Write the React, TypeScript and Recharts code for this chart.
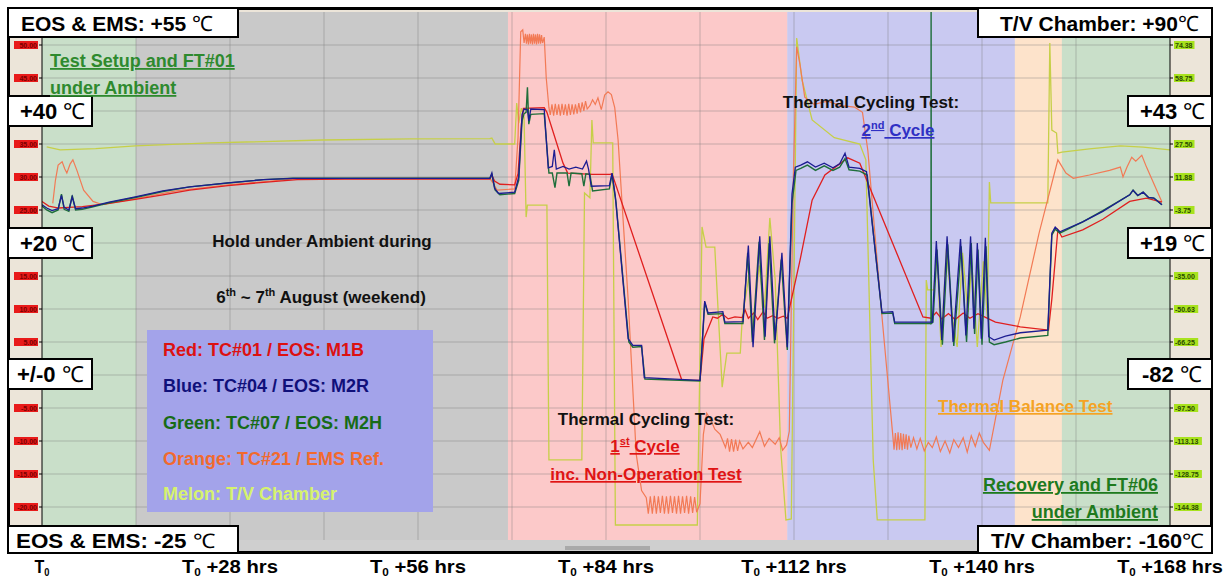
import React from 'react'
import { LineChart, Line, XAxis, YAxis, ReferenceArea, ReferenceLine } from 'recharts'

// time axis (hours after T0) and the two temperature scales
const HOUR_TICKS = [0, 14, 28, 42, 56, 70, 84, 98, 112, 126, 140, 154, 168]
const LEFT_TICKS = [-25, -20, -15, -10, -5, 0, 5, 10, 15, 20, 25, 30, 35, 40, 45, 50, 55]
const RIGHT_TICKS = [
  -160, -144.375, -128.75, -113.125, -97.5, -81.875, -66.25, -50.625, -35, -19.375, -3.75, 11.875, 27.5,
  43.125, 58.75, 74.375, 90,
]

// test phases: ambient setup, weekend hold, 1st cycle, 2nd cycle, thermal balance, recovery
const PHASE_EDGES = [0, 14, 69.4, 111, 144.9, 151.9, 168]

// [hours, degC]
const RED_TC01: [number, number][] = [
  [0, 26.3], [1.0, 25.6], [2.5, 25.3], [4.0, 25.4], [6.0, 25.5], [7.6, 25.7], [10.0, 26.0], [13.9, 26.6],
  [18.0, 27.3], [22.0, 28.0], [27.7, 28.7], [33.0, 29.2], [38.0, 29.6], [45.0, 29.7], [55.0, 29.7], [66.7, 29.7],
  [67.0, 30.3], [67.4, 29.4], [68.2, 28.9], [70.4, 28.8], [70.9, 30.5], [71.4, 38.0], [71.7, 40.4], [74.8, 40.5],
  [75.2, 39.8], [77.6, 32.1], [78.3, 30.6], [82.0, 30.4], [84.6, 30.4], [84.9, 30.5], [95.3, -0.8], [98.0, -0.8],
  [98.6, 5.5], [99.9, 8.8], [100.6, 8.6], [101.4, 9.2], [102.2, 8.5], [103.2, 8.8], [104.3, 8.7], [104.7, 9.9],
  [105.2, 8.6], [106.0, 9.4], [106.6, 8.4], [107.4, 9.6], [108.0, 8.6], [108.8, 9.0], [109.6, 8.6], [110.4, 8.9],
  [111.0, 8.6], [112.9, 17.4], [114.7, 26.5], [116.6, 30.3], [120.0, 32.9], [121.8, 32.1], [131.2, 8.8],
  [132.4, 8.6], [133.2, 9.5], [134.0, 8.5], [135.0, 9.3], [136.0, 8.4], [137.2, 9.4], [138.2, 8.6], [139.4, 9.3],
  [140.6, 8.7], [142.0, 8.0], [145.7, 7.3], [149.9, 6.8], [150.4, 11.5], [151.3, 22.0], [151.9, 20.9],
  [155.0, 22.0], [158.0, 23.6], [162.0, 26.3], [164.5, 26.8], [166.8, 26.2],
]

const BLUE_TC04: [number, number][] = [
  [0, 25.8], [0.7, 25.3], [1.5, 24.9], [2.4, 25.2], [2.9, 27.2], [3.3, 25.4], [4.0, 25.0], [4.5, 27.0],
  [5.0, 25.2], [6.0, 25.3], [7.6, 25.6], [10.0, 26.2], [13.9, 27.0], [18.0, 27.9], [22.0, 28.5], [27.7, 29.1],
  [33.0, 29.6], [37.4, 29.8], [66.7, 29.8], [67.0, 30.6], [67.4, 28.3], [68.0, 27.5], [70.4, 27.7], [71.0, 30.0],
  [71.5, 39.5], [71.8, 40.3], [72.3, 40.2], [72.5, 38.5], [72.8, 40.3], [74.8, 40.2], [75.4, 31.4], [76.0, 31.6],
  [76.3, 34.1], [76.6, 31.2], [77.6, 31.6], [78.5, 31.2], [79.5, 31.5], [80.5, 31.2], [81.1, 32.4], [81.4, 31.2],
  [81.8, 28.6], [84.5, 28.7], [84.9, 30.6], [85.4, 27.0], [87.3, 5.5], [88.0, 4.5], [89.3, 4.5], [89.7, -0.4],
  [98.0, -0.8], [98.7, 11.2], [99.2, 9.4], [101.4, 9.6], [101.7, 8.0], [104.4, 8.1], [105.2, 19.6], [105.9, 4.2],
  [106.9, 21.0], [107.7, 5.8], [108.4, 21.0], [109.2, 5.3], [110.2, 18.5], [111.0, 4.2], [111.7, 27.4],
  [112.2, 31.5], [113.0, 31.8], [114.0, 32.3], [115.2, 31.5], [116.5, 32.1], [117.8, 31.4], [118.8, 32.0],
  [119.6, 33.6], [120.2, 31.5], [121.8, 31.3], [122.8, 30.8], [125.1, 9.5], [126.7, 9.6], [127.0, 8.0],
  [132.6, 8.0], [133.2, 20.3], [134.0, 5.3], [134.8, 21.0], [135.7, 5.0], [136.8, 20.6], [137.6, 6.0],
  [138.3, 21.0], [138.8, 7.0], [139.3, 20.0], [139.9, 5.5], [140.5, 20.8], [141.0, 5.8], [141.8, 5.3],
  [143.5, 5.9], [145.7, 6.4], [149.8, 6.8], [150.4, 21.5], [150.9, 22.4], [151.6, 21.7], [155.0, 23.2],
  [158.0, 24.8], [162.0, 27.3], [162.5, 28.0], [163.2, 27.2], [164.0, 27.7], [164.8, 26.9], [165.6, 26.8],
  [166.8, 25.8],
]

const GREEN_TC07: [number, number][] = [
  [0, 25.6], [0.7, 25.0], [1.5, 24.6], [2.4, 25.0], [2.9, 27.4], [3.3, 25.1], [4.0, 24.8], [4.5, 27.2],
  [5.0, 25.0], [6.0, 25.1], [7.6, 25.5], [10.0, 26.1], [13.9, 26.9], [18.0, 27.8], [22.0, 28.5], [27.7, 29.1],
  [33.0, 29.6], [37.4, 29.8], [66.7, 29.8], [67.0, 30.4], [67.5, 28.0], [68.2, 27.3], [70.4, 27.5], [71.0, 29.5],
  [71.5, 38.5], [71.8, 39.6], [72.1, 39.8], [72.3, 43.6], [72.5, 38.0], [72.8, 39.5], [74.8, 39.6], [75.5, 30.6],
  [76.0, 30.6], [76.4, 28.4], [76.7, 30.6], [78.2, 30.6], [78.5, 28.6], [78.8, 30.6], [80.4, 30.5], [80.7, 28.6],
  [81.0, 30.5], [81.6, 30.4], [82.0, 27.9], [84.5, 28.2], [84.9, 30.4], [85.5, 26.0], [87.4, 5.0], [88.0, 4.2],
  [89.3, 4.3], [89.8, -0.6], [98.0, -0.9], [98.7, 11.0], [99.2, 9.2], [101.4, 9.3], [101.7, 7.8], [104.4, 7.8],
  [105.1, 18.5], [105.8, 5.0], [106.8, 20.2], [107.6, 5.3], [108.3, 20.0], [109.1, 4.8], [110.1, 17.5],
  [111.0, 3.8], [111.7, 26.0], [112.3, 31.0], [113.0, 31.3], [114.0, 31.8], [115.2, 31.0], [116.5, 31.7],
  [117.8, 31.0], [118.8, 31.5], [119.6, 32.8], [120.2, 31.1], [121.8, 30.9], [122.9, 30.3], [125.1, 9.3],
  [126.7, 9.4], [127.0, 7.8], [132.4, 7.8], [132.42, 55], [132.45, 7.8], [132.7, 8.0], [133.3, 19.0],
  [134.1, 4.6], [134.9, 19.8], [135.8, 4.4], [136.9, 19.5], [137.7, 5.0], [138.4, 20.0], [138.9, 6.2],
  [139.4, 19.0], [140.0, 4.6], [140.6, 19.5], [141.1, 5.0], [141.8, 4.6], [143.5, 5.0], [145.7, 5.6],
  [149.8, 6.0], [150.4, 21.2], [150.9, 22.1], [151.6, 21.5], [155.0, 23.2], [158.0, 24.9], [162.0, 27.3],
  [162.5, 28.0], [163.2, 27.2], [164.0, 27.7], [164.8, 26.9], [165.6, 26.8], [166.8, 25.8],
]

const ORANGE_TC21: [number, number][] = [
  [1.6, 26.0], [2.0, 29.5], [2.4, 31.8], [3.0, 32.3], [3.4, 31.2], [3.7, 30.6], [4.2, 32.0], [4.6, 32.6],
  [5.2, 31.0], [6.2, 28.0], [7.6, 26.3], [9.0, 25.8], [13.9, 26.7], [20.0, 27.9], [27.7, 28.8], [37.4, 29.7],
  [50.0, 29.8], [66.7, 29.8], [67.1, 29.2], [67.8, 28.0], [70.4, 28.2], [70.9, 36.0], [71.3, 52.0], [71.6, 52.3],
  [71.8, 50.3], [72.0, 51.7], [72.15, 50.2], [72.3, 51.6], [72.45, 50.1], [72.6, 51.7], [72.75, 50.2],
  [72.9, 51.6], [73.05, 50.1], [73.2, 51.7], [73.35, 50.2], [73.5, 51.6], [73.65, 50.1], [73.8, 51.7],
  [73.95, 50.2], [74.1, 51.6], [74.25, 50.2], [74.4, 51.5], [74.55, 50.3], [74.8, 51.2], [75.1, 45.0],
  [75.5, 40.5], [75.7, 39.4], [75.95, 41.0], [76.2, 39.3], [76.45, 41.1], [76.7, 39.4], [76.95, 41.0],
  [77.2, 39.3], [77.45, 41.1], [77.7, 39.4], [77.95, 41.0], [78.2, 39.3], [78.45, 41.1], [78.7, 39.4],
  [78.95, 41.0], [79.2, 39.5], [79.45, 41.0], [79.7, 39.6], [79.95, 41.2], [80.2, 39.8], [80.45, 41.3],
  [80.7, 40.0], [80.95, 41.5], [81.2, 40.3], [81.6, 40.8], [82.0, 41.7], [82.4, 41.0], [82.8, 42.0],
  [83.3, 40.2], [83.8, 42.4], [84.3, 42.9], [84.8, 42.5], [85.3, 40.5], [85.8, 35.6], [87.3, 11.4],
  [88.5, -12.0], [89.3, -17.5], [90.0, -18.6], [90.3, -21.0], [90.6, -18.4], [90.9, -21.0], [91.2, -18.3],
  [91.5, -21.0], [91.8, -18.4], [92.1, -20.9], [92.4, -18.3], [92.7, -21.0], [93.0, -18.4], [93.3, -21.0],
  [93.6, -18.3], [93.9, -20.9], [94.2, -18.4], [94.5, -21.0], [94.8, -18.3], [95.1, -21.0], [95.4, -18.4],
  [95.7, -20.9], [96.0, -18.3], [96.3, -21.0], [96.6, -18.4], [96.9, -20.9], [97.2, -18.5], [97.5, -20.8],
  [98.0, -19.5], [98.5, -9.0], [99.0, -5.8], [99.6, -6.8], [100.2, -8.2], [101.0, -9.0], [101.8, -11.0],
  [102.1, -9.6], [102.4, -11.6], [102.7, -9.7], [103.0, -11.6], [103.3, -9.8], [103.6, -11.5], [103.9, -10.0],
  [104.4, -11.2], [105.2, -10.2], [105.8, -11.0], [106.9, -8.6], [107.6, -10.8], [108.3, -9.6], [109.2, -10.5],
  [109.8, -9.5], [110.3, -11.4], [110.9, -10.6], [111.3, -8.5], [111.9, 30.0], [112.4, 49.7], [112.9, 47.0],
  [113.6, 42.1], [115.0, 41.0], [117.0, 41.5], [119.0, 40.8], [121.0, 40.6], [122.2, 39.8], [123.0, 34.0],
  [125.0, 10.0], [126.7, -9.0], [126.9, -11.3], [127.1, -8.8], [127.3, -11.4], [127.5, -8.7], [127.7, -11.3],
  [127.9, -8.8], [128.1, -11.4], [128.3, -8.9], [128.5, -11.2], [128.7, -9.0], [128.9, -11.3], [129.1, -9.2],
  [129.4, -11.0], [129.8, -9.5], [130.3, -11.2], [130.8, -9.6], [131.4, -11.5], [132.0, -10.2], [132.6, -11.0],
  [133.2, -9.4], [133.8, -11.6], [134.5, -10.0], [135.2, -11.8], [135.8, -9.8], [136.5, -11.0], [137.2, -9.5],
  [137.8, -11.7], [138.4, -9.2], [139.0, -10.8], [139.6, -8.8], [140.2, -10.2], [141.1, -11.4], [143.1, -0.8],
  [145.7, 8.8], [148.5, 21.5], [151.3, 32.6], [152.5, 30.6], [153.6, 29.8], [156.0, 30.3], [159.0, 31.0],
  [160.6, 31.5], [161.0, 30.0], [161.6, 31.5], [162.3, 33.0], [162.9, 32.4], [163.8, 33.3], [164.5, 31.5],
  [166.8, 26.2],
]

// T/V chamber, right-hand scale
const MELON_CHAMBER: [number, number][] = [
  [0.7, 26.1], [2.7, 24.7], [8.0, 25.3], [13.9, 26.6], [25.0, 28.0], [41.7, 29.4], [55.0, 29.9], [66.7, 30.0],
  [67.0, 30.3], [67.5, 27.5], [70.4, 27.5], [70.7, 46.9], [71.0, 37.4], [71.4, 44.5], [71.8, 40.0], [72.1, -7.1],
  [72.3, -1.4], [75.2, -1.4], [75.5, -122.1], [80.4, -122.1], [80.8, 4.3], [81.6, 2.0], [81.9, 38.9], [82.1, 28.0],
  [85.0, 28.0], [85.4, -152.9], [97.6, -152.9], [98.3, -11.8], [98.9, -21.3], [100.2, -21.3], [101.3, -87.6],
  [102.0, -71.5], [104.0, -71.5], [104.3, -54.4], [105.3, -35.0], [105.9, -60.0], [106.8, -30.0], [107.6, -50.0],
  [108.4, -7.5], [109.2, -36.9], [110.0, -116.0], [110.8, -150.5], [111.6, -150.0], [112.4, 77.7], [113.2, 57.8],
  [114.7, 38.9], [118.0, 30.5], [121.8, 27.5], [122.7, 20.0], [123.8, -122.1], [124.4, -150.5], [131.5, -150.5],
  [131.7, -36.9], [131.9, -41.6], [132.8, -41.6], [133.3, -25.0], [133.9, -68.6], [134.7, -22.0], [135.6, -55.0],
  [136.3, -68.6], [137.1, -24.0], [137.9, -52.0], [138.5, -30.0], [139.3, -68.6], [140.2, -28.0], [140.8, -55.0],
  [141.1, 9.5], [141.3, -0.4], [149.8, -0.4], [150.1, 75.3], [150.4, 34.1], [151.1, 32.7], [151.3, 23.2],
  [151.9, 23.7], [156.0, 25.2], [160.6, 26.6], [164.0, 26.0], [168.0, 24.7],
]

const PHASE_FILLS = ['#c9dfc9', '#c9c9c9', '#fcc9c9', '#c9c9f1', '#fde3cb', '#c9dfc9']

const SANS = "'Liberation Sans', Arial, sans-serif"

const W = 1223
const H = 580

const pts = (rows: [number, number][]) => rows.map(([h, v]) => ({ h, v }))

function LeftTick(props: any) {
  const { x, y, payload } = props
  return (
    <g>
      <rect x={x - 24} y={y - 4} width={24} height={8} fill="#e81a1a" />
      <text x={x - 1} y={y + 3} textAnchor="end" fontSize={7} fontWeight="bold" fontFamily={SANS} fill="#7a0000">
        {Number(payload.value).toFixed(2)}
      </text>
    </g>
  )
}

function RightTick(props: any) {
  const { x, y, payload } = props
  const label = Number(payload.value).toFixed(2)
  return (
    <g>
      <rect x={x} y={y - 4} width={label.length * 3.7 + 2} height={8} fill="#a8e21e" />
      <text x={x + 1} y={y + 3} fontSize={7} fontWeight="bold" fontFamily={SANS} fill="#2a4a00">
        {label}
      </text>
    </g>
  )
}

// condensed look of the original: squeeze the bold face with textLength
function HourTick(props: any) {
  const { x, payload } = props
  const h = payload.value
  if (h % 28 !== 0) return <g />
  const rest = h > 0 ? ` +${h} hrs` : ''
  return (
    <text
      x={x}
      y={573}
      textAnchor="middle"
      fontFamily={SANS}
      fontWeight="bold"
      fontSize={19}
      fill="#000"
      textLength={h > 0 ? (rest.length + 2) * 9.6 : 15}
      lengthAdjust="spacingAndGlyphs"
    >
      <tspan>T</tspan>
      <tspan dy={3} fontSize={11}>0</tspan>
      {h > 0 && <tspan dy={-3}>{rest}</tspan>}
    </text>
  )
}

function Box({ x, y, w, h }: { x: number; y: number; w: number; h: number }) {
  return <rect x={x} y={y} width={w} height={h} fill="#fff" stroke="#000" strokeWidth={2} />
}

function Deg({ children, ...rest }: any) {
  return (
    <text fontFamily={SANS} fontWeight="bold" fontSize={21} fill="#000" {...rest}>
      {children}
      <tspan fontWeight="normal">℃</tspan>
    </text>
  )
}

export default function App() {
  const grid = { stroke: '#7a7a7a', strokeOpacity: 0.4, strokeWidth: 1 }
  const u = { textDecoration: 'underline' }
  return (
    <div style={{ position: 'absolute', left: 0, top: 0, width: W, height: H, background: '#fff' }}>
      <svg width={W} height={H} style={{ position: 'absolute', left: 0, top: 0 }}>
        <rect x={8} y={8} width={1204} height={545} fill="#ece5d9" />
        <rect x={42} y={540} width={1128} height={11} fill="#cfcfcf" />
        <rect x={565} y={546} width={85} height={4} fill="#a9a9a9" />
      </svg>

      <div style={{ position: 'absolute', left: 0, top: 0 }}>
        <LineChart width={W} height={H} margin={{ top: 12, right: 13, bottom: 0, left: 8 }}>
          <XAxis
            type="number"
            dataKey="h"
            domain={[0, 168]}
            ticks={HOUR_TICKS}
            interval={0}
            axisLine={false}
            tickLine={false}
            height={40}
            tick={<HourTick />}
            allowDataOverflow
          />
          <YAxis
            yAxisId="l"
            domain={[-25, 55]}
            ticks={LEFT_TICKS}
            interval={0}
            width={34}
            tickSize={3}
            tickMargin={1}
            axisLine={{ stroke: '#000' }}
            tickLine={{ stroke: '#000' }}
            tick={<LeftTick />}
            allowDataOverflow
          />
          <YAxis
            yAxisId="r"
            orientation="right"
            domain={[-160, 90]}
            ticks={RIGHT_TICKS}
            interval={0}
            width={40}
            tickSize={3}
            tickMargin={1}
            axisLine={{ stroke: '#000' }}
            tickLine={{ stroke: '#000' }}
            tick={<RightTick />}
            allowDataOverflow
          />
          {PHASE_FILLS.map((fill, i) => (
            <ReferenceArea
              key={i}
              yAxisId="l"
              x1={PHASE_EDGES[i]}
              x2={PHASE_EDGES[i + 1]}
              y1={-25}
              y2={55}
              fill={fill}
              fillOpacity={1}
              stroke="none"
            />
          ))}
          {LEFT_TICKS.slice(1, -1).map((t) => (
            <ReferenceLine key={'y' + t} yAxisId="l" y={t} {...grid} />
          ))}
          {HOUR_TICKS.slice(1, -1).map((t) => (
            <ReferenceLine key={'x' + t} yAxisId="l" x={t} {...grid} />
          ))}
          <Line data={pts(MELON_CHAMBER)} dataKey="v" yAxisId="r" stroke="#c6cf48" strokeWidth={1.3} dot={false} isAnimationActive={false} />
          <Line data={pts(ORANGE_TC21)} dataKey="v" yAxisId="l" stroke="#f27a55" strokeWidth={1.2} dot={false} isAnimationActive={false} />
          <Line data={pts(RED_TC01)} dataKey="v" yAxisId="l" stroke="#e01f1f" strokeWidth={1.3} dot={false} isAnimationActive={false} />
          <Line data={pts(GREEN_TC07)} dataKey="v" yAxisId="l" stroke="#1e6e3a" strokeWidth={1.4} dot={false} isAnimationActive={false} />
          <Line data={pts(BLUE_TC04)} dataKey="v" yAxisId="l" stroke="#1c1c92" strokeWidth={1.3} dot={false} isAnimationActive={false} />
        </LineChart>
      </div>

      <svg width={W} height={H} style={{ position: 'absolute', left: 0, top: 0, pointerEvents: 'none' }}>
        <rect x={8.5} y={8.5} width={1203} height={544} fill="none" stroke="#000" strokeWidth={3} />

        {/* left scale labels */}
        <Box x={8} y={8} w={230} h={29} />
        <Deg x={21} y={31}>EOS &amp; EMS: +55 </Deg>
        <Box x={8} y={96} w={84} h={30} />
        <Deg x={20} y={119} fontSize={22}>+40 </Deg>
        <Box x={8} y={228} w={84} h={30} />
        <Deg x={20} y={251} fontSize={22}>+20 </Deg>
        <Box x={8} y={359} w={84} h={30} />
        <Deg x={17} y={382} fontSize={22}>+/-0 </Deg>
        <Box x={8} y={526} w={230} h={27} />
        <Deg x={16} y={548} fontSize={20} textLength={199} lengthAdjust="spacingAndGlyphs">EOS &amp; EMS: -25 </Deg>

        {/* right scale labels */}
        <Box x={978} y={8} w={234} h={29} />
        <Deg x={1000} y={31}>T/V Chamber: +90</Deg>
        <Box x={1128} y={96} w={84} h={30} />
        <Deg x={1140} y={119} fontSize={22}>+43 </Deg>
        <Box x={1128} y={228} w={84} h={30} />
        <Deg x={1140} y={251} fontSize={22}>+19 </Deg>
        <Box x={1128} y={359} w={84} h={30} />
        <Deg x={1142} y={382} fontSize={22}>-82 </Deg>
        <Box x={978} y={526} w={234} h={27} />
        <Deg x={991} y={548} fontSize={20} textLength={213} lengthAdjust="spacingAndGlyphs">T/V Chamber: -160</Deg>

        {/* phase annotations */}
        <g fontFamily={SANS} fontWeight="bold">
          <text x={50} y={67} fontSize={18} fill="#2e8a2e" style={u}>Test Setup and FT#01</text>
          <text x={50} y={94} fontSize={18} fill="#2e8a2e" style={u}>under Ambient</text>

          <text x={322} y={247} fontSize={17} fill="#111" textAnchor="middle">Hold under Ambient during</text>
          <text x={321} y={303} fontSize={17} fill="#111" textAnchor="middle">
            6<tspan dy={-7} fontSize={11}>th</tspan>
            <tspan dy={7}> ~ 7</tspan>
            <tspan dy={-7} fontSize={11}>th</tspan>
            <tspan dy={7}> August (weekend)</tspan>
          </text>

          <text x={646} y={425} fontSize={17} fill="#111" textAnchor="middle">Thermal Cycling Test:</text>
          <text x={645} y={452} fontSize={17} fill="#e01414" textAnchor="middle" style={u}>
            1<tspan dy={-7} fontSize={11}>st</tspan>
            <tspan dy={7}> Cycle</tspan>
          </text>
          <text x={646} y={480} fontSize={17} fill="#e01414" textAnchor="middle" style={u}>inc. Non-Operation Test</text>

          <text x={871} y={108} fontSize={17} fill="#111" textAnchor="middle">Thermal Cycling Test:</text>
          <text x={898} y={136} fontSize={17} fill="#3030c4" textAnchor="middle" style={u}>
            2<tspan dy={-7} fontSize={11}>nd</tspan>
            <tspan dy={7}> Cycle</tspan>
          </text>

          <text x={938} y={412} fontSize={17} fill="#f5a324" style={u}>Thermal Balance Test</text>
          <text x={1158} y={491} fontSize={18} fill="#1e7a1e" textAnchor="end" style={u}>Recovery and FT#06</text>
          <text x={1158} y={518} fontSize={18} fill="#1e7a1e" textAnchor="end" style={u}>under Ambient</text>
        </g>

        {/* series key */}
        <rect x={147} y={330} width={286} height={182} fill="#a3a3ea" />
        <g fontFamily={SANS} fontWeight="bold" fontSize={18}>
          <text x={163} y={356} fill="#dd1111">Red: TC#01 / EOS: M1B</text>
          <text x={163} y={392} fill="#10107a">Blue: TC#04 / EOS: M2R</text>
          <text x={163} y={429} fill="#176b17">Green: TC#07 / EOS: M2H</text>
          <text x={163} y={465} fill="#f26a2e">Orange: TC#21 / EMS Ref.</text>
          <text x={163} y={500} fill="#d6f26e">Melon: T/V Chamber</text>
        </g>
      </svg>
    </div>
  )
}
